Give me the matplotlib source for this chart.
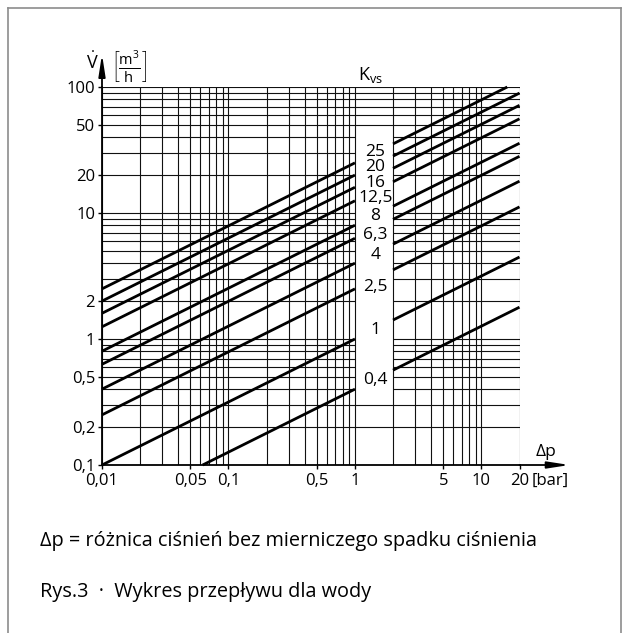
import numpy as np
import matplotlib
matplotlib.use("Agg")
from matplotlib import pyplot as plt
from matplotlib.patches import Rectangle
from matplotlib.lines import Line2D

plt.rcParams["font.family"] = ["Open Sans", "DejaVu Sans"]
plt.rcParams["mathtext.fontset"] = "custom"
plt.rcParams["mathtext.rm"] = "Open Sans"
plt.rcParams["mathtext.it"] = "Open Sans"

# Kvs values and their labels
kvs = [25, 20, 16, 12.5, 8, 6.3, 4, 2.5, 1, 0.4]
kvs_labels = ["25", "20", "16", "12,5", "8", "6,3", "4", "2,5", "1", "0,4"]

# axis ticks
x_ticks = [0.01, 0.05, 0.1, 0.5, 1, 5, 10, 20]
x_tick_labels = ["0,01", "0,05", "0,1", "0,5", "1", "5", "10", "20"]
y_ticks = [0.1, 0.2, 0.5, 1, 2, 10, 20, 50, 100]
y_tick_labels = ["0,1", "0,2", "0,5", "1", "2", "10", "20", "50", "100"]

# the two pressure ranges drawn (gap in between holds the labels)
dp_left = (0.01, 1)
dp_right = (2, 20)

x_min, x_max = 0.01, 20
y_min, y_max = 0.1, 100

fig = plt.figure(figsize=(6.3, 6.33), dpi=100)
ax = fig.add_axes([102 / 630, 1 - 465 / 633, 417.5 / 630, 378 / 633])
ax.set_xscale("log")
ax.set_yscale("log")
ax.set_xlim(x_min, x_max)
ax.set_ylim(y_min, y_max)

# log grid, 1..9 in every decade
def decade_vals(lo, hi):
    vals = []
    for e in range(int(np.floor(np.log10(lo))), int(np.ceil(np.log10(hi))) + 1):
        for m in range(1, 10):
            v = m * 10.0 ** e
            if lo * 0.999 <= v <= hi * 1.001:
                vals.append(v)
    return vals

gcol = "#111111"
ax.hlines(decade_vals(y_min, y_max), x_min, x_max, color=gcol, lw=0.8, zorder=1)
ax.add_patch(Rectangle((1, 0.35), 1, 45 - 0.35, fc="white", ec="none", zorder=1.5))
ax.vlines(decade_vals(x_min, x_max), y_min, y_max, color=gcol, lw=0.8, zorder=2)

# flow lines V = Kvs * sqrt(dp)
for k in kvs:
    for lo, hi in (dp_left, dp_right):
        dp = np.geomspace(lo, hi, 50)
        v = k * np.sqrt(dp)
        keep = (v >= y_min) & (v <= y_max)
        dp = dp[keep]
        v = v[keep]
        # clip to the frame exactly
        if k * np.sqrt(lo) < y_min:
            dp = np.r_[(y_min / k) ** 2, dp]
            v = np.r_[y_min, v]
        if k * np.sqrt(hi) > y_max:
            dp = np.r_[dp, (y_max / k) ** 2]
            v = np.r_[v, y_max]
        ax.plot(dp, v, color="black", lw=2.0, solid_capstyle="butt", zorder=3, clip_on=False)

# Kvs labels in the gap
label_dy_px = [2, -1, -5, -6.5, 0, -6, -1, -7, 0, 0]
for k, lab, dy in zip(kvs, kvs_labels, label_dy_px):
    ax.annotate(lab, xy=(1.45, k * np.sqrt(1.4)), xytext=(0, dy * 0.72),
                textcoords="offset points", ha="center", va="center",
                fontsize=12.5, zorder=4)

ax.set_xticks(x_ticks)
ax.set_xticklabels(x_tick_labels)
ax.set_yticks(y_ticks)
ax.set_yticklabels(y_tick_labels)
ax.minorticks_off()
ax.tick_params(axis="both", length=3, width=1, labelsize=12, direction="out", pad=2)
ax.tick_params(axis="x", pad=3)

for s in ("top", "right"):
    ax.spines[s].set_visible(False)
for s in ("left", "bottom"):
    ax.spines[s].set_linewidth(1.3)

# axis arrows
ax.annotate("", xy=(0, 1.087), xytext=(0, 1.0), xycoords="axes fraction",
            arrowprops=dict(arrowstyle="-|>,head_length=1.3,head_width=0.2",
                            lw=1.3, color="black", shrinkA=0, shrinkB=0))
ax.annotate("", xy=(1.12, 0), xytext=(1.0, 0), xycoords="axes fraction",
            arrowprops=dict(arrowstyle="-|>,head_length=1.3,head_width=0.2",
                            lw=1.3, color="black", shrinkA=0, shrinkB=0))

ax.text(-0.022, 1.064, r"$\dot{\mathrm{V}}$", transform=ax.transAxes,
        ha="center", va="center", fontsize=13)
ax.text(0.064, 1.055, r"$\left[\frac{\mathrm{m}^3}{\mathrm{h}}\right]$", transform=ax.transAxes,
        ha="center", va="center", fontsize=15)
ax.text(0.644, 1.032, r"$\mathrm{K}_{\mathrm{vs}}$", transform=ax.transAxes,
        ha="center", va="center", fontsize=13)
ax.text(1.063, 0.034, "\u0394p", transform=ax.transAxes,
        ha="center", va="center", fontsize=12.5)
ax.text(1.03, -0.042, "[bar]", transform=ax.transAxes,
        ha="left", va="center", fontsize=12)

fig.text(40 / 630, 1 - 541 / 633, "\u0394p = różnica ciśnień bez mierniczego spadku ciśnienia",
         ha="left", va="center", fontsize=14.3)
fig.text(40 / 630, 1 - 592 / 633, "Rys.3  \u00b7  Wykres przepływu dla wody",
         ha="left", va="center", fontsize=14.3)

# page frame
bx0, bx1, by1 = 8 / 630, 621 / 630, 1 - 8 / 633
for xs, ys in (([bx0, bx0], [0, by1]), ([bx0, bx1], [by1, by1]), ([bx1, bx1], [by1, 0])):
    fig.add_artist(Line2D(xs, ys, color="#8c8c8c", lw=1.2, transform=fig.transFigure))

fig.savefig("out.png", dpi=100)
